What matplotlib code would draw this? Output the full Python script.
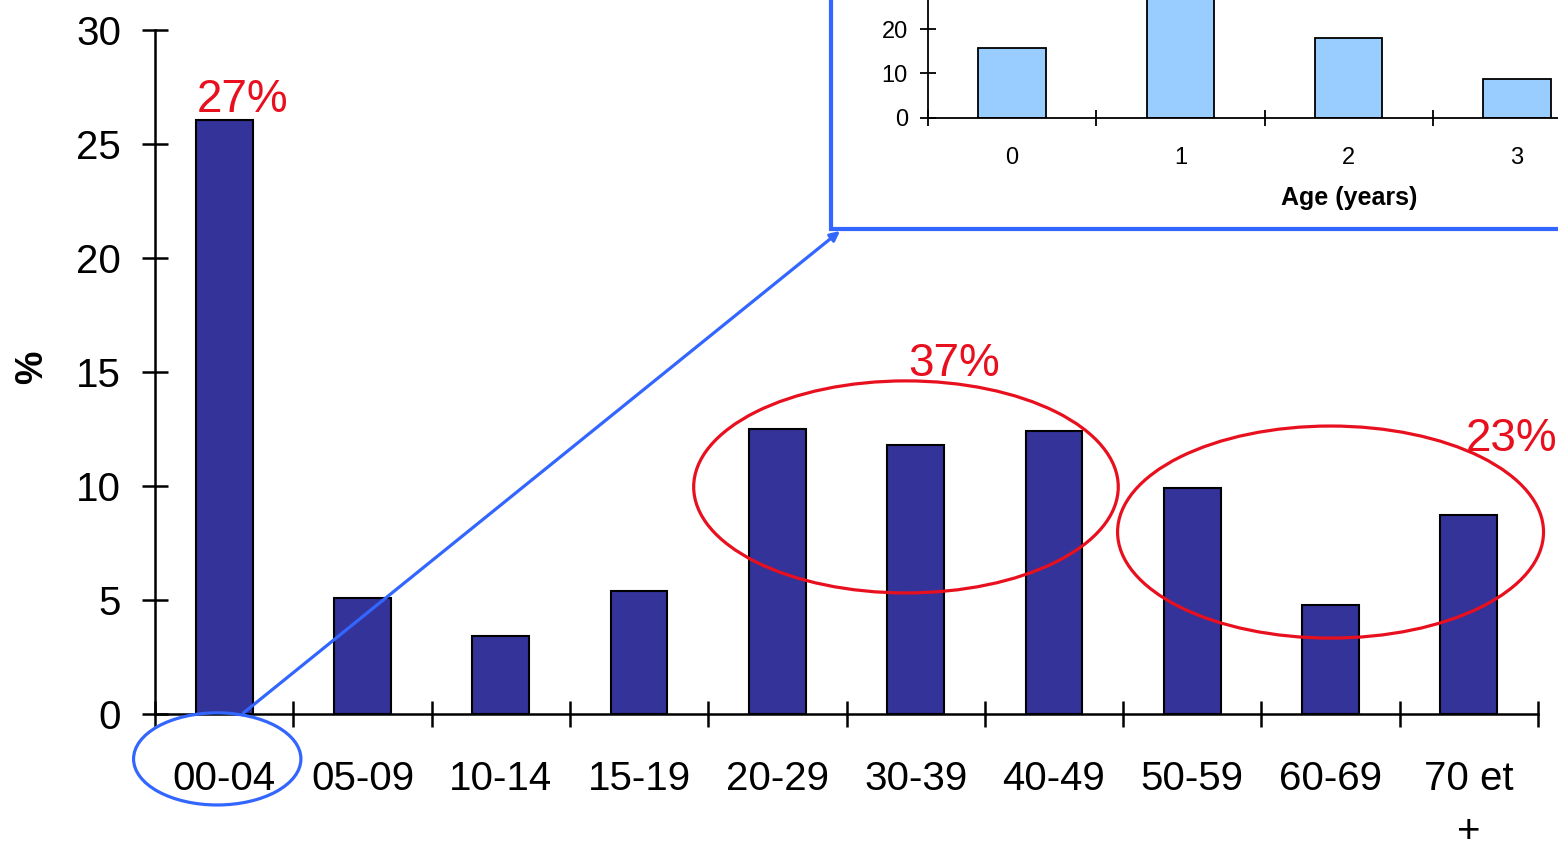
import matplotlib
matplotlib.use('Agg')
import matplotlib.pyplot as plt
from matplotlib.patches import Ellipse, Rectangle

plt.rcParams['font.family'] = ['Liberation Sans', 'DejaVu Sans']

age_groups = ['00-04', '05-09', '10-14', '15-19', '20-29', '30-39',
              '40-49', '50-59', '60-69', '70 et\n+']
percent = [26.05, 5.1, 3.4, 5.4, 12.5, 11.8, 12.4, 9.9, 4.8, 8.75]

inset_ages = ['0', '1', '2', '3']
inset_percent = [15.7, 31.0, 18.0, 8.8]

group_labels = ['27%', '37%', '23%']

W, H = 1558, 848
fig = plt.figure(figsize=(W / 100, H / 100), dpi=100)

red = '#E8101E'
blue = '#3366FF'

# main chart
ax = fig.add_axes([155 / W, 1 - 714 / H, (1538 - 155) / W, (714 - 30) / H])
xs = list(range(len(percent)))
ax.bar(xs, percent, width=0.41, color='#333399', edgecolor='black', linewidth=1.5, zorder=3)
ax.set_xlim(-0.5, len(percent) - 0.5)
ax.set_ylim(0, 30)
for s in ['top', 'right']:
    ax.spines[s].set_visible(False)
for s in ['left', 'bottom']:
    ax.spines[s].set_linewidth(1.8)
ax.set_yticks(range(0, 31, 5))
ax.set_xticks([i - 0.5 for i in range(len(percent) + 1)])
ax.set_xticklabels([])
ax.set_xticks(xs, minor=True)
ax.set_xticklabels(age_groups, minor=True, fontsize=29, multialignment='center', linespacing=1.5)
ax.tick_params(axis='x', which='major', direction='inout', length=19, width=1.8)
ax.tick_params(axis='x', which='minor', length=0, pad=33)
ax.tick_params(axis='y', direction='inout', length=19, width=1.8, labelsize=29, pad=15)
fig.text(32 / W, 1 - 367 / H, '%', rotation=90, fontsize=27, fontweight='bold',
         ha='center', va='center')

# group annotations
lab_kw = dict(color=red, fontsize=33, ha='center', va='baseline', clip_on=False)
ax.text(0.13, 26.4, group_labels[0], **lab_kw)
ax.text(5.28, 14.82, group_labels[1], **lab_kw)
ax.text(9.31, 11.53, group_labels[2], **lab_kw)
ax.add_patch(Ellipse((4.93, 9.96), 3.07, 9.3, fill=False, edgecolor=red, lw=2.3, zorder=5, clip_on=False))
ax.add_patch(Ellipse((8.0, 7.98), 3.08, 9.3, fill=False, edgecolor=red, lw=2.3, zorder=5, clip_on=False))
ax.add_patch(Ellipse((-0.05, -1.97), 1.21, 4.04, fill=False, edgecolor=blue, lw=2.3, zorder=5, clip_on=False))

# arrow to inset
ax.annotate('', xy=(840 / W, 1 - 231 / H), xycoords='figure fraction',
            xytext=(0.14, 0.05), textcoords='data',
            arrowprops=dict(arrowstyle='-|>', color=blue, lw=2.3, mutation_scale=14,
                            shrinkA=0, shrinkB=0), zorder=6)

# inset frame
fig.add_artist(Rectangle((831 / W, 1 - 229 / H), 1, 1, transform=fig.transFigure,
                         facecolor='white', edgecolor=blue, lw=3, zorder=7))

# inset chart (extends past the right edge of the figure)
ins = fig.add_axes([928 / W, 1 - 118 / H, 5 * 168.3 / W, 178 / H], zorder=8)
ins.patch.set_alpha(0)
ix = list(range(len(inset_percent)))
ins.bar(ix, inset_percent, width=0.4, color='#99CCFF', edgecolor='black', linewidth=1.3)
ins.set_xlim(-0.5, 4.5)
ins.set_ylim(0, 40)
for s in ['top', 'right']:
    ins.spines[s].set_visible(False)
for s in ['left', 'bottom']:
    ins.spines[s].set_linewidth(1.3)
ins.set_yticks([0, 10, 20])
ins.set_xticks([i - 0.5 for i in range(6)])
ins.set_xticklabels([])
ins.set_xticks(ix, minor=True)
ins.set_xticklabels(inset_ages, minor=True, fontsize=17)
ins.tick_params(axis='x', which='major', direction='inout', length=11, width=1.3)
ins.tick_params(axis='x', which='minor', length=0, pad=21)
ins.tick_params(axis='y', direction='inout', length=11, width=1.3, labelsize=17, pad=9)
ins.set_xlabel('Age (years)', fontsize=18, fontweight='bold', labelpad=12)

fig.savefig('out.png', dpi=100)
